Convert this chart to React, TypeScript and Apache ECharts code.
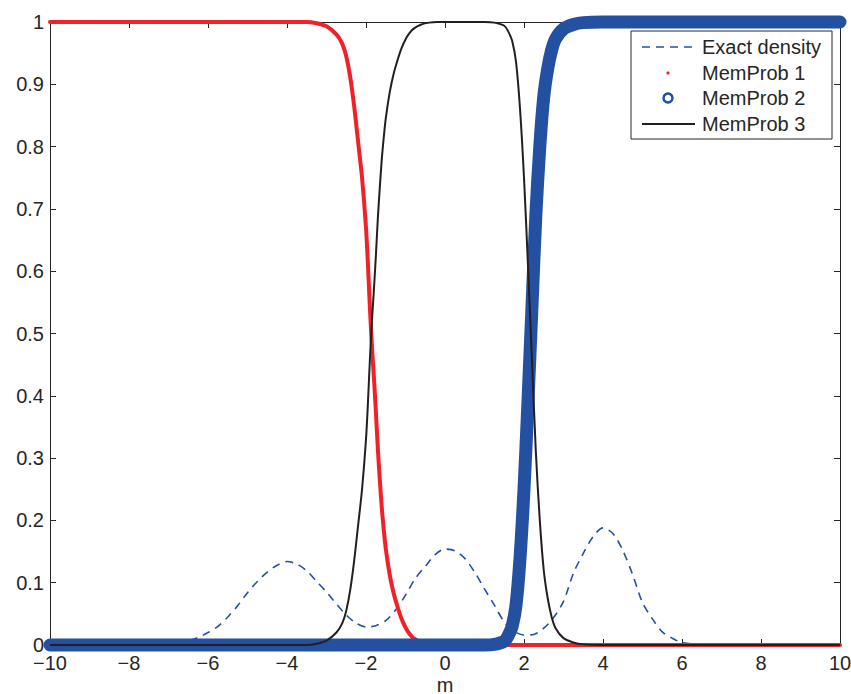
import React, { useEffect, useRef } from "react";
import * as echarts from "echarts";

const xTicks = [-10, -8, -6, -4, -2, 0, 2, 4, 6, 8, 10];
const yTicks = [0, 0.1, 0.2, 0.3, 0.4, 0.5, 0.6, 0.7, 0.8, 0.9, 1];
const xLabel = "m";

const densityX = [-10, -7.5, -7, -6.5, -6.25, -6, -5.75, -5.5, -5.25, -5, -4.75, -4.5, -4.25, -4, -3.75, -3.5, -3.25, -3, -2.75, -2.5, -2.25, -2, -1.75, -1.5, -1.25, -1, -0.75, -0.5, -0.25, 0, 0.25, 0.5, 0.75, 1, 1.25, 1.5, 1.75, 2, 2.25, 2.5, 2.75, 3, 3.25, 3.5, 3.75, 4, 4.25, 4.5, 4.75, 5, 5.25, 5.5, 5.75, 6, 6.5, 7, 10];
const densityY = [0, 0, 0.002, 0.007, 0.012, 0.02, 0.03, 0.045, 0.063, 0.084, 0.102, 0.117, 0.128, 0.134, 0.13, 0.119, 0.102, 0.085, 0.066, 0.048, 0.035, 0.029, 0.031, 0.039, 0.056, 0.08, 0.107, 0.126, 0.145, 0.154, 0.151, 0.139, 0.117, 0.09, 0.064, 0.037, 0.022, 0.016, 0.017, 0.027, 0.044, 0.07, 0.115, 0.147, 0.174, 0.188, 0.179, 0.152, 0.113, 0.068, 0.042, 0.021, 0.011, 0.004, 0.001, 0, 0];

const memProb1X = [-10, -3.5, -3.25, -3, -2.75, -2.6, -2.5, -2.4, -2.3, -2.2, -2.1, -2, -1.95, -1.9, -1.85, -1.8, -1.75, -1.7, -1.65, -1.6, -1.55, -1.5, -1.4, -1.3, -1.2, -1.1, -1, -0.9, -0.8, -0.6, -0.4, -0.2, 10];
const memProb1Y = [1, 1, 0.998, 0.993, 0.98, 0.965, 0.945, 0.912, 0.865, 0.808, 0.75, 0.67, 0.61, 0.54, 0.48, 0.43, 0.375, 0.315, 0.265, 0.22, 0.185, 0.155, 0.113, 0.083, 0.061, 0.042, 0.028, 0.018, 0.011, 0.004, 0.001, 0, 0];

const memProb2X = [-10, 1, 1.25, 1.5, 1.6, 1.7, 1.8, 1.9, 2, 2.1, 2.2, 2.3, 2.4, 2.5, 2.6, 2.7, 2.8, 3, 3.25, 3.5, 4, 10];
const memProb2Y = [0, 0, 0.001, 0.006, 0.015, 0.03, 0.065, 0.14, 0.25, 0.39, 0.54, 0.69, 0.8, 0.88, 0.925, 0.955, 0.973, 0.989, 0.996, 0.999, 1, 1];

const memProb3X = [-10, -3.5, -3.25, -3, -2.75, -2.6, -2.5, -2.4, -2.3, -2.2, -2.1, -2, -1.95, -1.9, -1.85, -1.8, -1.75, -1.7, -1.65, -1.6, -1.55, -1.5, -1.4, -1.3, -1.2, -1.1, -1, -0.9, -0.8, -0.6, -0.4, -0.2, 1, 1.25, 1.5, 1.6, 1.7, 1.8, 1.9, 2, 2.1, 2.2, 2.3, 2.4, 2.5, 2.6, 2.7, 2.8, 3, 3.25, 3.5, 4, 10];
const memProb3Y = [0, 0, 0.002, 0.007, 0.02, 0.035, 0.055, 0.088, 0.135, 0.192, 0.25, 0.33, 0.39, 0.46, 0.52, 0.57, 0.625, 0.685, 0.735, 0.78, 0.815, 0.845, 0.887, 0.917, 0.939, 0.958, 0.972, 0.982, 0.989, 0.996, 0.999, 1, 1, 0.999, 0.994, 0.985, 0.97, 0.935, 0.86, 0.75, 0.61, 0.46, 0.31, 0.2, 0.12, 0.075, 0.045, 0.027, 0.011, 0.004, 0.001, 0, 0];

const legendNames = ["Exact density", "MemProb 1", "MemProb 2", "MemProb 3"];

const BLUE = "#2450A2";
const RED = "#EE2228";
const BLACK = "#231F20";
const AXIS = "#262626";
const FONT = "Liberation Sans, Arial, Helvetica, sans-serif";

const pairs = (xs: number[], ys: number[]) => xs.map((x, i) => [x, ys[i]]);

export default function App() {
  const ref = useRef<HTMLDivElement>(null);
  useEffect(() => {
    if (!ref.current) return;
    const chart = echarts.init(ref.current, undefined, { renderer: "svg" });
    const fmt = (v: number) => String(v).replace("-", "\u2212");
    const baseX = {
      type: "value" as const,
      min: xTicks[0],
      max: xTicks[xTicks.length - 1],
      interval: 2,
      splitLine: { show: false },
      axisLine: { show: true, onZero: false, lineStyle: { color: AXIS, width: 1 } },
      axisTick: { show: true, inside: true, length: 6, lineStyle: { color: AXIS } },
    };
    const baseY = {
      type: "value" as const,
      min: yTicks[0],
      max: yTicks[yTicks.length - 1],
      interval: 0.1,
      splitLine: { show: false },
      axisLine: { show: true, onZero: false, lineStyle: { color: AXIS, width: 1 } },
      axisTick: { show: true, inside: true, length: 6, lineStyle: { color: AXIS } },
    };
    const lx = 631, ly = 31;
    const rowY = [47, 73, 98, 124];
    chart.setOption({
      animation: false,
      backgroundColor: "#ffffff",
      grid: { left: 50, right: 11, top: 22, bottom: 49, containLabel: false, outerBoundsMode: "none" },
      xAxis: [
        {
          ...baseX,
          position: "bottom",
          axisLabel: { fontSize: 20, lineHeight: 16, color: AXIS, fontFamily: FONT, margin: 10, formatter: fmt },
        },
        { ...baseX, position: "top", axisLabel: { show: false } },
      ],
      yAxis: [
        {
          ...baseY,
          position: "left",
          axisLabel: { fontSize: 20, lineHeight: 16, color: AXIS, fontFamily: FONT, margin: 6, formatter: (v: number) => String(Math.round(v * 10) / 10) },
        },
        { ...baseY, position: "right", axisLabel: { show: false } },
      ],
      series: [
        {
          name: legendNames[0],
          type: "line",
          data: pairs(densityX, densityY),
          showSymbol: false,
          smooth: 0.3,
          clip: false,
          lineStyle: { color: BLUE, width: 1.6, type: [8, 6] },
          z: 1,
        },
        {
          name: legendNames[1],
          type: "line",
          data: pairs(memProb1X, memProb1Y),
          showSymbol: false,
          smooth: 0.3,
          clip: false,
          lineStyle: { color: RED, width: 4, cap: "round", join: "round" },
          z: 2,
        },
        {
          name: legendNames[2],
          type: "line",
          data: pairs(memProb2X, memProb2Y),
          showSymbol: false,
          smooth: 0.3,
          clip: false,
          lineStyle: { color: BLUE, width: 13, cap: "round", join: "round" },
          z: 3,
        },
        {
          name: legendNames[3],
          type: "line",
          data: pairs(memProb3X, memProb3Y),
          showSymbol: false,
          smooth: 0.3,
          clip: false,
          lineStyle: { color: BLACK, width: 2 },
          z: 4,
        },
      ],
      graphic: [
        {
          type: "text",
          x: 445,
          y: 685,
          style: { text: xLabel, fontSize: 20, lineHeight: 16, fontFamily: FONT, fill: AXIS, align: "center", verticalAlign: "middle" },
        },
        {
          type: "group",
          z: 100,
          children: [
            { type: "rect", shape: { x: lx, y: ly, width: 201, height: 108 }, style: { fill: "#ffffff", stroke: AXIS, lineWidth: 1 } },
            { type: "line", shape: { x1: 642, y1: rowY[0], x2: 695, y2: rowY[0] }, style: { stroke: BLUE, lineWidth: 1.6, lineDash: [8, 6] } },
            { type: "circle", shape: { cx: 668, cy: rowY[1], r: 1.6 }, style: { fill: RED } },
            { type: "circle", shape: { cx: 668, cy: rowY[2], r: 4.5 }, style: { fill: "none", stroke: BLUE, lineWidth: 2.5 } },
            { type: "line", shape: { x1: 642, y1: rowY[3], x2: 695, y2: rowY[3] }, style: { stroke: BLACK, lineWidth: 2 } },
            ...legendNames.map((n, i) => ({
              type: "text",
              x: 702,
              y: rowY[i],
              style: { text: n, fontSize: 20, fontFamily: FONT, fill: AXIS, verticalAlign: "middle", align: "left" },
            })),
          ],
        },
      ],
    });
    return () => chart.dispose();
  }, []);
  return <div ref={ref} style={{ width: 851, height: 694, position: "absolute", left: 0, top: 0 }} />;
}
